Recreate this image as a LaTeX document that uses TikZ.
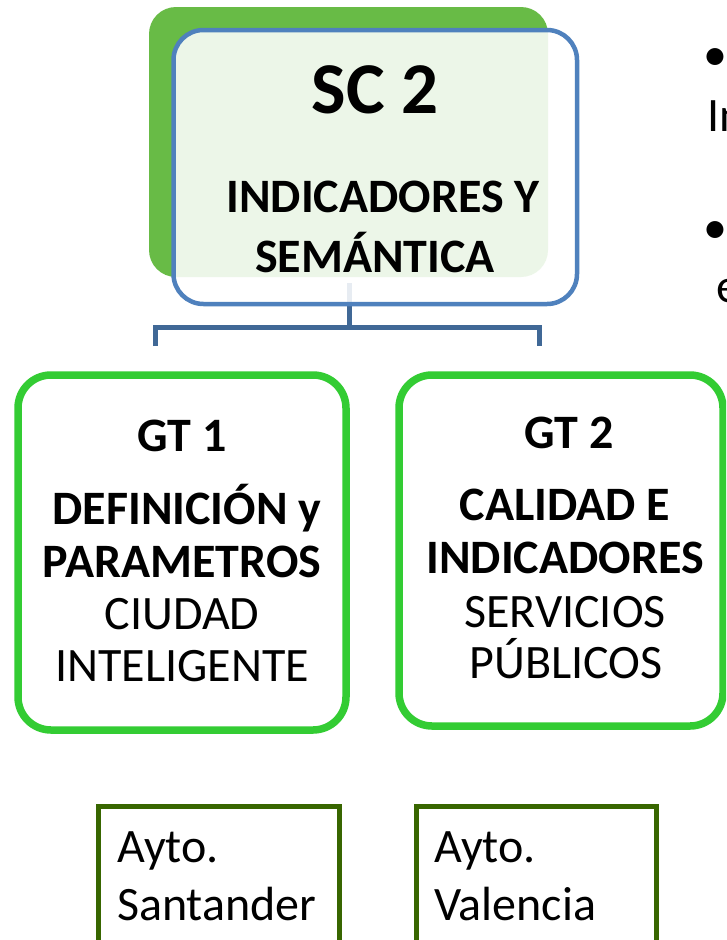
\documentclass[tikz,border=0pt]{standalone}
\usepackage{fontspec}
\setmainfont{Carlito}
\definecolor{backgreen}{RGB}{104,187,70}
\definecolor{scblue}{RGB}{79,129,189}
\definecolor{linkblue}{RGB}{64,104,150}
\definecolor{gtgreen}{RGB}{51,204,51}
\definecolor{citygreen}{RGB}{56,102,0}
\tikzset{
  txt/.style={inner sep=0pt, anchor=base},
  txtl/.style={inner sep=0pt, anchor=base west},
  bigfont/.style={font=\fontsize{48}{57}\selectfont},
  bigbold/.style={font=\fontsize{48}{57}\selectfont\bfseries},
  gtbox/.style={draw=gtgreen, line width=7.5pt, rounded corners=33pt, fill=white, inner sep=0pt},
  citybox/.style={draw=citygreen, line width=5pt, fill=white, inner sep=0pt},
  link/.style={draw=linkblue, line width=5pt}
}
\begin{document}
\begin{tikzpicture}[x=1pt,y=-1pt]
\useasboundingbox (0,0) rectangle (726,940);
\clip (0,0) rectangle (726,940);
\fill[white] (0,0) rectangle (726,940);

% background green block
\node[fill=backgreen, rounded corners=27pt, minimum width=399pt, minimum height=270pt, inner sep=0pt] (back) at (348.5,142) {};

% connector (behind the SC box)
\coordinate (stemtop) at (349,283);
\coordinate (hub) at (349,327);
\coordinate (leftend) at (155,346);
\coordinate (rightend) at (539,346);
\draw[link] (stemtop) -- (hub);
\draw[link] (leftend) |- (hub) -| (rightend);

% SC box
\node[draw=scblue, line width=4.5pt, rounded corners=30pt, fill=white, fill opacity=0.88, minimum width=403.5pt, minimum height=274pt, inner sep=0pt] (sc) at (375.25,167) {};
\node[txt, font=\fontsize{73}{80}\selectfont\bfseries] (sctitle) at (375,113) {SC 2};
\node[txt, bigbold] (scl1) at (383,212) {INDICADORES Y};
\node[txt, bigbold] (scl2) at (375,272) {SEMÁNTICA};

% right side bullets (cut off)
\node[txtl, bigfont] (b1) at (703,70) {•};
\node[txtl, bigfont] (b1t) at (707,131) {In};
\node[txtl, bigfont] (b2) at (703,243) {•};
\node[txtl, bigfont] (b2t) at (716,302) {e};

% GT boxes
\node[gtbox, minimum width=328pt, minimum height=355pt] (gt1) at (182,552.5) {};
\node[gtbox, minimum width=324pt, minimum height=351pt] (gt2) at (561,550.5) {};

\node[txt, bigbold] (g1a) at (182,451) {GT 1};
\node[txt, bigbold] (g1b) at (187,524) {DEFINICIÓN y};
\node[txt, bigbold] (g1c) at (182,577) {PARAMETROS};
\node[txt, bigfont] (g1d) at (182,629) {CIUDAD};
\node[txt, bigfont] (g1e) at (182,681) {INTELIGENTE};

\node[txt, bigbold] (g2a) at (569,448) {GT 2};
\node[txt, bigbold] (g2b) at (565,520) {CALIDAD E};
\node[txt, bigbold] (g2c) at (565,573) {INDICADORES};
\node[txt, bigfont] (g2d) at (565,627) {SERVICIOS};
\node[txt, bigfont] (g2e) at (566,678) {PÚBLICOS};

% city boxes
\node[citybox, minimum width=241pt, minimum height=154pt] (santander) at (218.5,883) {};
\node[citybox, minimum width=240pt, minimum height=154pt] (valencia) at (536,883) {};
\node[txtl, bigfont] (s1) at (117,862) {Ayto.};
\node[txtl, bigfont] (s2) at (117,920) {Santander};
\node[txtl, bigfont] (v1) at (434,862) {Ayto.};
\node[txtl, bigfont] (v2) at (434,920) {Valencia};
\end{tikzpicture}
\end{document}
